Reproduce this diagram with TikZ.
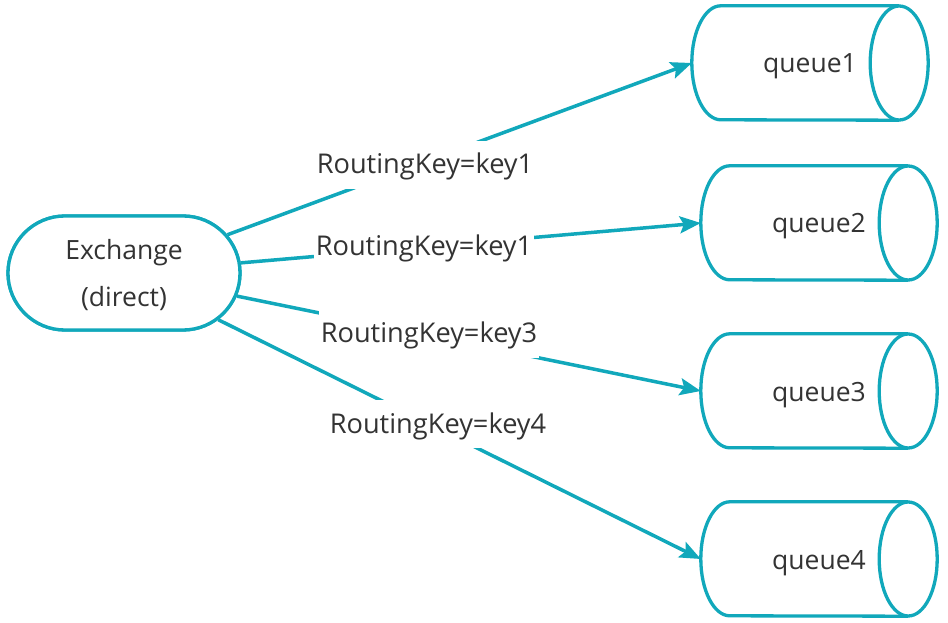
\documentclass[tikz,border=0pt]{standalone}
\usepackage{fontspec}
\setmainfont{Open Sans}
\usetikzlibrary{arrows.meta,shapes.misc}
\definecolor{teal1}{RGB}{17,168,187}
\definecolor{txt}{RGB}{51,51,51}
\begin{document}
\begin{tikzpicture}[x=1pt,y=1pt,
  every node/.style={text=txt,font=\fontsize{26.5}{47}\selectfont},
  exbox/.style={rounded rectangle,draw=teal1,line width=3.3pt,fill=white,
    minimum width=232pt,minimum height=114pt,inner sep=0pt,align=center},
  qnode/.style={minimum width=236pt,minimum height=114pt,inner sep=0pt,
    text height=20pt,text depth=0pt},
  qline/.style={draw=teal1,line width=3.3pt,fill=white},
  link/.style={draw=teal1,line width=3.5pt,-{Stealth[length=21pt,width=17pt,inset=4pt]}},
  lbl/.style={fill=white,inner xsep=2pt,inner ysep=0pt,text height=33pt,text depth=15pt,anchor=base,
    font=\fontsize{27.2}{32}\selectfont}
]
\useasboundingbox (0,0) rectangle (948,622);
% nodes
\node[qnode] (q1) at (810,559) {};
\node[qnode] (q2) at (819,399) {};
\node[qnode] (q3) at (819,231) {};
\node[qnode] (q4) at (819,63) {};
\node[exbox] (ex) at (124,349) {};
% connectors
\draw[link] (ex) -- (q1.west);
\draw[link] (ex) -- (q2.west);
\draw[link] (ex) -- (q3.west);
\draw[link] (ex) -- (q4.west);
% labels
\node[lbl] (l1) at (425,448) {RoutingKey=key1};
\node[lbl] (l2) at (424,366) {RoutingKey=key1};
\node[lbl] (l3) at (429,279) {RoutingKey=key3};
\node[lbl] (l4) at (438,189) {RoutingKey=key4};
% exchange
\node[exbox] (exb) at (124,349) {};
\node[anchor=base] (ext1) at (124,362) {Exchange};
\node[anchor=base] (ext2) at (124,315) {(direct)};
% queues
\foreach \q/\t in {q1/queue1,q2/queue2,q3/queue3,q4/queue4}{
  \path[qline] ([xshift=-29pt]\q.north east) -- ([xshift=29pt]\q.north west)
     arc[start angle=90,end angle=270,x radius=29pt,y radius=57pt]
     -- ([xshift=-29pt]\q.south east);
  \path[qline] ([xshift=-29pt]\q.east) ellipse[x radius=29pt,y radius=57pt];
  \node[qnode] at (\q) {\t};
}
\end{tikzpicture}
\end{document}
